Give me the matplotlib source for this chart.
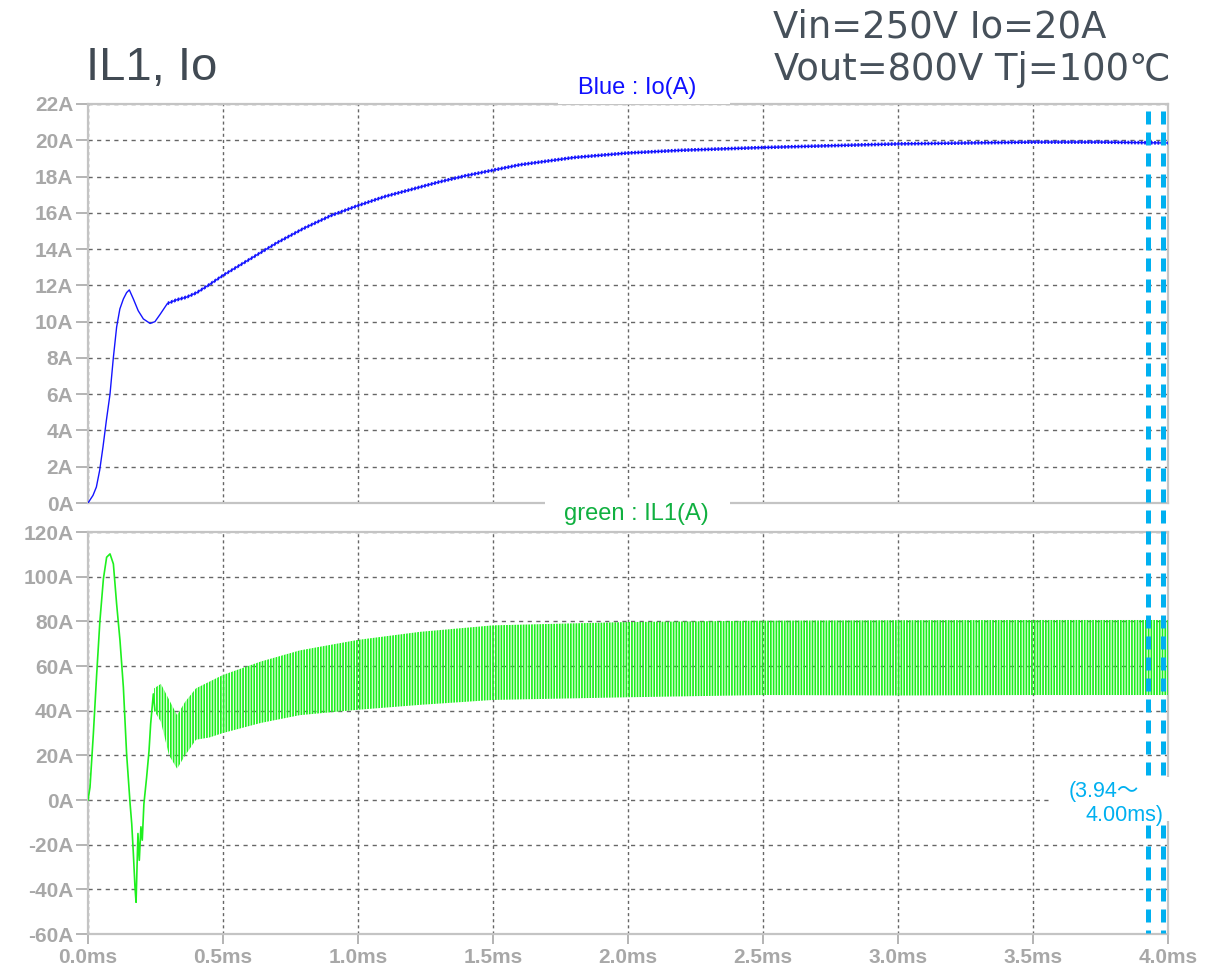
import numpy as np
import matplotlib
matplotlib.use('Agg')
import matplotlib.pyplot as plt
from matplotlib.transforms import blended_transform_factory
from matplotlib.lines import Line2D
from matplotlib.patches import Rectangle

# ---------------- data ----------------
# Io (blue) : mean output current, time in ms
io_t = [0, 0.0185, 0.031, 0.0432, 0.0556, 0.068, 0.0815, 0.0938, 0.106, 0.118,
        0.131, 0.143, 0.153, 0.168, 0.186, 0.205, 0.23, 0.248, 0.267, 0.294,
        0.328, 0.365, 0.403, 0.44, 0.5, 0.55, 0.6, 0.7, 0.8, 0.9, 1.0, 1.1,
        1.2, 1.3, 1.4, 1.5, 1.6, 1.8, 2.0, 2.2, 2.5, 2.75, 3.0, 3.25, 3.5,
        3.75, 4.0]
io_v = [0, 0.42, 0.88, 1.8, 3.1, 4.55, 6.0, 8.0, 9.7, 10.7,
        11.25, 11.6, 11.75, 11.25, 10.6, 10.15, 9.9, 10.0, 10.4, 11.0,
        11.2, 11.35, 11.6, 11.95, 12.55, 13.0, 13.45, 14.35, 15.15, 15.85, 16.4, 16.9,
        17.3, 17.7, 18.05, 18.35, 18.65, 19.05, 19.3, 19.45, 19.6, 19.7, 19.8, 19.85, 19.9,
        19.9, 19.85]
io_ripple_half = 0.1           # half peak-to-peak ripple of Io (A)
io_ripple_start = 0.29         # ms

# IL1 (green) : start-up transient
il1_t = [0, 0.0074, 0.0198, 0.032, 0.044, 0.057, 0.069, 0.0815, 0.094, 0.106,
         0.1185, 0.131, 0.143, 0.156, 0.162, 0.168, 0.174, 0.178, 0.185, 0.190,
         0.196, 0.201, 0.207, 0.217, 0.226, 0.232, 0.242, 0.248]
il1_v = [0, 5.7, 29.6, 56, 80, 99, 108.7, 110.2, 105.7, 87.8,
         71.4, 50.5, 20.6, -1.8, -10.7, -24, -39, -45.8, -15, -27,
         -12, -18, -1.8, 10, 22, 34, 47.5, 40]
# IL1 ripple envelope (switching ripple band)
il1_env_t = [0.245, 0.27, 0.30, 0.33, 0.36, 0.40, 0.45, 0.50, 0.64, 0.785,
             1.0, 1.23, 1.5, 2.0, 2.5, 3.0, 3.5, 4.0]
il1_upper = [50, 52, 45, 38, 44, 50, 53, 56, 62, 67,
             71.7, 75.3, 78.2, 79.7, 80.3, 80.5, 80.6, 80.6]
il1_lower = [40, 35, 20, 14, 20, 27, 28, 30, 34.5, 38,
             40.4, 42.6, 44.8, 46, 47, 46.8, 47, 47]

x_ticks = [0, 0.5, 1.0, 1.5, 2.0, 2.5, 3.0, 3.5, 4.0]
x_labels = ['0.0ms', '0.5ms', '1.0ms', '1.5ms', '2.0ms', '2.5ms', '3.0ms', '3.5ms', '4.0ms']
top_yticks = list(range(0, 23, 2))
bot_yticks = list(range(-60, 121, 20))
cursor_ms = [3.926, 3.981]

# ---------------- figure ----------------
W, H = 1206, 971
fig = plt.figure(figsize=(W / 100, H / 100), dpi=100)
plt.rcParams['hatch.linewidth'] = 1.25


def fx(px):
    return px / W


def fy(py):
    return 1 - py / H


ax1 = fig.add_axes([fx(88), fy(503), fx(1168) - fx(88), fy(104) - fy(503)])
ax2 = fig.add_axes([fx(88), fy(934), fx(1168) - fx(88), fy(532) - fy(934)])

tick_col = '#a8a8a8'
spine_col = '#c4c4c4'
grid_col = '#666666'
tick_font = dict(family='Liberation Sans', weight='bold', size=15)

for ax, yt in ((ax1, top_yticks), (ax2, bot_yticks)):
    ax.set_xlim(0, 4)
    ax.set_ylim(yt[0], yt[-1])
    ax.set_yticks(yt)
    ax.set_yticklabels([f'{v}A' for v in yt], fontdict=tick_font, color=tick_col)
    ax.set_xticks(x_ticks)
    for s in ax.spines.values():
        s.set_color(spine_col)
        s.set_linewidth(1.6)
    ax.set_axisbelow(True)
    ax.grid(axis='y', color=grid_col, lw=1.0, ls=(0, (3.0, 3.2)))
    ax.grid(axis='x', color=grid_col, lw=1.0, ls=(0, (2.2, 2.2)))
    ax.tick_params(axis='y', direction='out', length=9, width=1.2, color=tick_col, pad=1.5)

ax1.tick_params(axis='x', length=0, labelbottom=False)
ax2.set_xticklabels(x_labels, fontdict=tick_font, color=tick_col)
ax2.tick_params(axis='x', direction='out', length=7, width=1.2, color=tick_col, pad=3)

# Io trace
blue = '#1414ff'
io_t_a = np.array(io_t)
io_v_a = np.array(io_v)
ax1.plot(io_t_a, io_v_a, color=blue, lw=1.0, zorder=3)
m = io_t_a >= io_ripple_start
ax1.fill_between(io_t_a[m], io_v_a[m] - io_ripple_half, io_v_a[m] + io_ripple_half,
                 facecolor='none', edgecolor=blue, hatch='|||||', lw=0, zorder=3)

# IL1 trace
green = '#1ef01e'
ax2.plot(il1_t, il1_v, color=green, lw=1.2, zorder=3)
ax2.fill_between(il1_env_t, il1_lower, il1_upper, facecolor='none',
                 edgecolor=green, hatch='||||||', lw=0, zorder=3)

# Titles and condition text
fig.text(fx(86), fy(80), 'IL1, Io', family='Liberation Sans', size=34,
         color='#414a53', va='baseline', ha='left')
cond_font = ['DejaVu Sans', 'Noto Sans CJK JP']
fig.text(fx(773), fy(37), 'Vin=250V Io=20A', family=cond_font, size=26.6,
         color='#46505a', va='baseline', ha='left')
fig.text(fx(774), fy(80), 'Vout=800V Tj=100℃', family=cond_font, size=26.6,
         color='#46505a', va='baseline', ha='left')

# Trace labels with white boxes over the frame
fig.add_artist(Rectangle((fx(558), fy(104)), fx(730) - fx(558), fy(74) - fy(104),
                         transform=fig.transFigure, fc='white', ec='none', zorder=5))
fig.text(fx(637), fy(88), 'Blue : Io(A)', family='Liberation Sans', size=17,
         color='#1010ff', ha='center', va='center', zorder=6)
fig.add_artist(Rectangle((fx(545), fy(527)), fx(730) - fx(545), fy(500) - fy(527),
                         transform=fig.transFigure, fc='white', ec='none', zorder=5))
fig.text(fx(636), fy(514), 'green : IL1(A)', family='Liberation Sans', size=17,
         color='#10b040', ha='center', va='center', zorder=6)

# Cursor lines (3.94 ~ 4.00 ms window)
trans = blended_transform_factory(ax2.transData, fig.transFigure)
cyan = '#00b0f0'
for c in cursor_ms:
    fig.add_artist(Line2D([c, c], [fy(111), fy(933)], transform=trans, color=cyan,
                          lw=3.6, ls=(0, (2.6, 1.6)), zorder=4, solid_capstyle='butt',
                          dash_capstyle='butt'))
fig.add_artist(Rectangle((fx(1050), fy(821)), fx(1172) - fx(1050), fy(777) - fy(821),
                         transform=fig.transFigure, fc='white', ec='none', zorder=5))
cur_font = ['Liberation Sans', 'Noto Sans CJK JP']
fig.text(fx(1069), fy(797), '(3.94～', family=cur_font, size=15.5, color=cyan,
         ha='left', va='baseline', zorder=6)
fig.text(fx(1164), fy(821), '4.00ms)', family=cur_font, size=15.5, color=cyan,
         ha='right', va='baseline', zorder=6)

fig.savefig('out.png', dpi=100)
